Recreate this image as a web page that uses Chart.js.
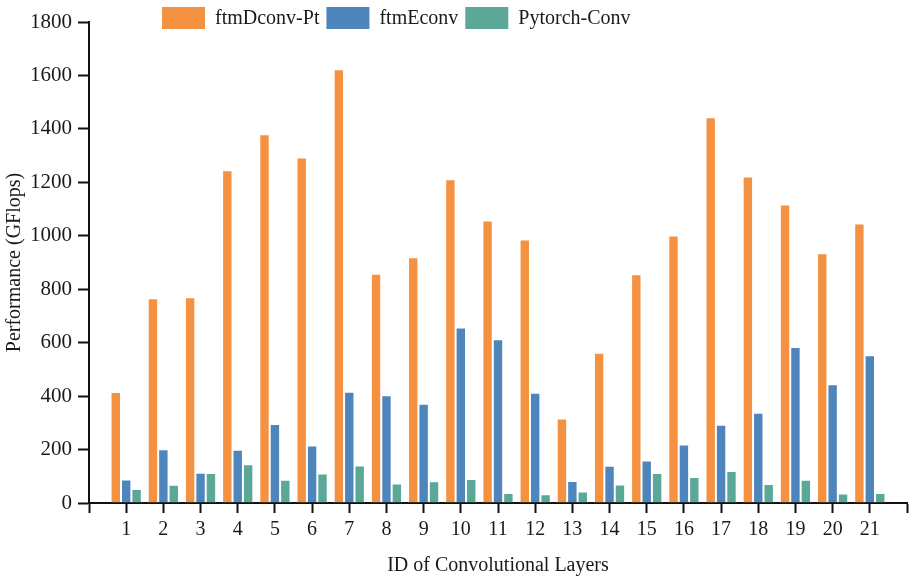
<!DOCTYPE html>
<html>
<head>
<meta charset="utf-8">
<script src="https://cdn.jsdelivr.net/npm/chart.js@4/dist/chart.umd.min.js"></script>
<style>
    html, body { margin: 0; padding: 0; background: #fff; }
    .chart-container { position: relative; width: 912px; height: 580px; }
</style>
</head>
<body>
<div class="chart-container">
    <canvas id="chart"></canvas>
</div>
<script>
const layerIds = ['1', '2', '3', '4', '5', '6', '7', '8', '9', '10', '11',
    '12', '13', '14', '15', '16', '17', '18', '19', '20', '21'];

const ftmDconvPt = [415, 766, 770, 1245, 1380, 1293, 1623, 858, 920, 1212, 1057,
    986, 316, 562, 856, 1001, 1444, 1222, 1117, 935, 1046];
const ftmEconv = [88, 201, 113, 199, 296, 215, 416, 403, 371, 657, 613,
    413, 82, 139, 159, 219, 293, 338, 584, 444, 553];
const pytorchConv = [52, 68, 112, 145, 87, 110, 140, 73, 81, 90, 37,
    33, 43, 69, 112, 97, 120, 71, 87, 36, 37];

const seriesNames = ['ftmDconv-Pt', 'ftmEconv', 'Pytorch-Conv'];
const seriesColors = ['#F59241', '#4F85BD', '#5BA899'];

const yMax = 1800;
const yStep = 200;

const fontFamily = '"Liberation Serif", "Times New Roman", serif';
const textColor = '#1a1a1a';

// empty slot at both ends so the axis gets end ticks like the original
const labels = ['', ...layerIds, ''];
const pad = values => [null, ...values, null];

const seriesValues = [ftmDconvPt, ftmEconv, pytorchConv];

const datasets = seriesValues.map((values, i) => ({
    label: seriesNames[i],
    data: pad(values),
    backgroundColor: seriesColors[i],
    borderColor: 'rgba(255, 255, 255, 0.55)',
    borderWidth: 1,
    categoryPercentage: 0.84,
    barPercentage: 1.0
}));

// legend drawn by hand so it can sit over the top of the plot like the original
const topLegend = {
    id: 'topLegend',
    afterDraw(chart) {
        const ctx = chart.ctx;
        let x = 162;
        const y = 7;
        ctx.save();
        ctx.font = `20px ${fontFamily}`;
        ctx.textBaseline = 'middle';
        ctx.textAlign = 'left';
        chart.data.datasets.forEach(ds => {
            ctx.fillStyle = ds.backgroundColor;
            ctx.fillRect(x, y, 43, 22);
            x += 43 + 10;
            ctx.fillStyle = textColor;
            ctx.fillText(ds.label, x, y + 12);
            x += ctx.measureText(ds.label).width + 7;
        });
        ctx.restore();
    }
};

new Chart(document.getElementById('chart'), {
    type: 'bar',
    data: { labels, datasets },
    options: {
        responsive: true,
        maintainAspectRatio: false,
        animation: false,
        layout: {
            padding: { top: 22, right: 5, left: 0, bottom: 0 }
        },
        plugins: {
            legend: { display: false },
            tooltip: { enabled: false }
        },
        scales: {
            x: {
                offset: false,
                grid: {
                    display: true,
                    offset: false,
                    drawOnChartArea: false,
                    drawTicks: true,
                    tickLength: 10,
                    tickColor: '#111',
                    tickWidth: 2
                },
                border: { display: true, color: '#111', width: 2 },
                ticks: {
                    autoSkip: false,
                    maxRotation: 0,
                    padding: 5,
                    color: textColor,
                    font: { family: fontFamily, size: 20 }
                },
                title: {
                    display: true,
                    text: 'ID of Convolutional Layers',
                    color: textColor,
                    font: { family: fontFamily, size: 20 },
                    padding: { top: 4, bottom: 2 }
                },
                afterFit(scale) { scale.height = 77; }
            },
            y: {
                min: 0,
                max: yMax,
                grid: {
                    display: true,
                    drawOnChartArea: false,
                    drawTicks: true,
                    tickLength: 11,
                    tickColor: '#111',
                    tickWidth: 2
                },
                border: { display: true, color: '#111', width: 2 },
                ticks: {
                    stepSize: yStep,
                    padding: 6,
                    color: textColor,
                    font: { family: fontFamily, size: 21 },
                    callback: value => String(value)
                },
                title: {
                    display: true,
                    text: 'Performance (GFlops)',
                    color: textColor,
                    font: { family: fontFamily, size: 20 },
                    padding: { top: 3, bottom: 3 }
                },
                afterFit(scale) { scale.width = 89; }
            }
        }
    },
    plugins: [topLegend]
});
</script>
</body>
</html>
